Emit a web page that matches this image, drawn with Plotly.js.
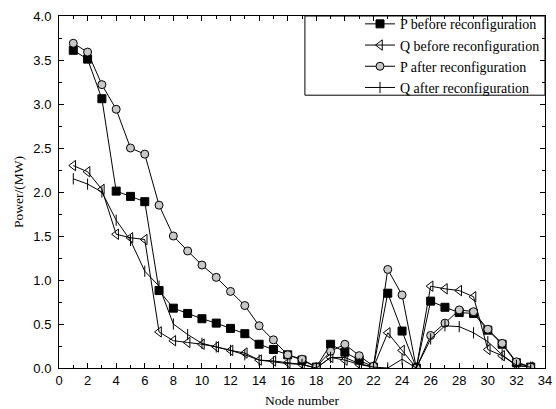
<!DOCTYPE html>
<html>
<head>
<meta charset="utf-8">
<script src="https://cdn.plot.ly/plotly-3.0.1.min.js"></script>
<style>html,body{margin:0;padding:0;background:#fff}#chart{width:556px;height:409px}</style>
</head>
<body>
<div id="chart"></div>
<script>
const nodes = [1,2,3,4,5,6,7,8,9,10,11,12,13,14,15,16,17,18,19,20,21,22,23,24,25,26,27,28,29,30,31,32,33];
const pBefore = [3.61,3.51,3.06,2.01,1.95,1.89,0.88,0.68,0.62,0.56,0.51,0.45,0.39,0.27,0.21,0.15,0.09,0.01,0.27,0.18,0.09,0.01,0.85,0.42,0.0,0.76,0.69,0.63,0.62,0.43,0.27,0.06,0.01];
const qBefore = [2.30,2.23,2.03,1.52,1.48,1.46,0.41,0.31,0.29,0.27,0.24,0.20,0.17,0.09,0.08,0.06,0.04,0.0,0.12,0.09,0.04,0.01,0.40,0.20,0.0,0.93,0.90,0.88,0.81,0.21,0.14,0.03,0.01];
const pAfter = [3.69,3.59,3.22,2.94,2.50,2.43,1.85,1.50,1.33,1.17,1.03,0.87,0.71,0.48,0.32,0.15,0.10,0.01,0.19,0.27,0.14,0.02,1.12,0.83,0.0,0.37,0.51,0.66,0.64,0.44,0.28,0.07,0.01];
const qAfter = [2.15,2.09,2.00,1.68,1.45,1.10,0.93,0.50,0.38,0.28,0.24,0.20,0.15,0.09,0.07,0.05,0.04,0.0,0.12,0.12,0.05,0.01,0.0,0.10,0.0,0.33,0.48,0.47,0.40,0.30,0.15,0.03,0.01];
const names = ["P before reconfiguration","Q before reconfiguration","P after reconfiguration","Q after reconfiguration"];

const line = {color:'#000', width:1};
const traces = [
  {x:nodes, y:pBefore, name:names[0], mode:'lines+markers', line:line,
   marker:{symbol:'square', size:8, color:'#000', line:{color:'#000', width:1}}},
  {x:nodes, y:qBefore, name:names[1], mode:'lines+markers', line:line,
   marker:{symbol:'triangle-left-open', size:9, color:'#000', line:{color:'#000', width:1}}},
  {x:nodes, y:pAfter, name:names[2], mode:'lines+markers', line:line,
   marker:{symbol:'circle', size:8, color:'#c8c8c8', line:{color:'#000', width:1}}},
  {x:nodes, y:qAfter, name:names[3], mode:'lines+markers', line:line,
   marker:{symbol:'line-ns', size:8, color:'#000', line:{color:'#000', width:1}}}
];

const serif = 'Liberation Serif, Times New Roman, serif';
const axisCommon = {
  showgrid:false, zeroline:false, showline:true, linecolor:'#000', linewidth:1, mirror:'allticks',
  ticks:'inside', ticklen:5, tickcolor:'#000', tickwidth:1,
  tickfont:{family:'Liberation Sans, Arial, sans-serif', size:13, color:'#000'}
};

const layout = {
  width:556, height:409,
  margin:{l:59, r:11, t:16, b:41, autoexpand:false},
  paper_bgcolor:'#fff', plot_bgcolor:'#fff',
  showlegend:true,
  legend:{x:1, xanchor:'right', y:1.022, yanchor:'top', bgcolor:'rgba(0,0,0,0)', borderwidth:0,
    font:{family:serif, size:14, color:'#000'}, tracegroupgap:0},
  shapes:[{type:'rect', xref:'paper', yref:'paper', x0:0.506, x1:1, y0:0.775, y1:1,
    line:{color:'#000', width:1}, fillcolor:'rgba(0,0,0,0)', layer:'above'}],
  xaxis:Object.assign({}, axisCommon, {range:[0,34], dtick:2, tick0:0,
    minor:{dtick:1, ticks:'inside', ticklen:3, tickcolor:'#000'},
    title:{text:'Node number', standoff:8, font:{family:serif, size:13.5, color:'#000'}}}),
  yaxis:Object.assign({}, axisCommon, {range:[0,4], dtick:0.5, tick0:0, tickformat:'.1f',
    ticklabelstandoff:4,
    minor:{dtick:0.25, ticks:'inside', ticklen:3, tickcolor:'#000'},
    title:{text:'Power/(MW)', standoff:6, font:{family:serif, size:13.5, color:'#000'}}})
};

Plotly.newPlot('chart', traces, layout, {displayModeBar:false, staticPlot:true});
</script>
</body>
</html>
